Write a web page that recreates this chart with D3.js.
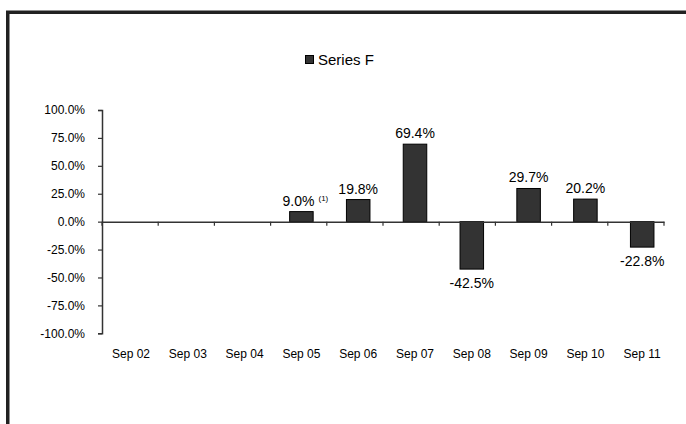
<!DOCTYPE html>
<html>
<head>
<meta charset="utf-8">
<script src="https://cdn.jsdelivr.net/npm/d3@7"></script>
<style>
  html, body { margin: 0; padding: 0; background: #fff; }
  svg { display: block; }
  text { font-family: "Liberation Sans", Arial, sans-serif; fill: #000; }
</style>
</head>
<body>
<svg id="chart" width="686" height="424"></svg>
<script>
const categories = ["Sep 02","Sep 03","Sep 04","Sep 05","Sep 06","Sep 07","Sep 08","Sep 09","Sep 10","Sep 11"];
const seriesF = [null, null, null, 9.0, 19.8, 69.4, -42.5, 29.7, 20.2, -22.8];
const labels  = ["", "", "", "9.0%", "19.8%", "69.4%", "-42.5%", "29.7%", "20.2%", "-22.8%"];
const notes   = ["", "", "", "(1)", "", "", "", "", "", ""];
const yTicks  = [100, 75, 50, 25, 0, -25, -50, -75, -100];
const seriesName = "Series F";

const svg = d3.select("#chart");

// frame
svg.append("rect")
  .attr("x", 7.75).attr("y", 12.25)
  .attr("width", 720).attr("height", 460)
  .attr("fill", "none").attr("stroke", "#222").attr("stroke-width", 3.5);

const y = d3.scaleLinear().domain([-100, 100]).range([333.3, 110]);
const xAxisScale = d3.scaleBand().domain(categories).range([102, 664]);
const xBars = d3.scaleBand().domain(categories).range([102.6, 670.6])
  .paddingInner(0.586).paddingOuter(0.293);

// bars
svg.append("g").selectAll("rect")
  .data(categories.map((c, i) => ({c, v: seriesF[i]})).filter(d => d.v !== null))
  .join("rect")
  .attr("x", d => xBars(d.c))
  .attr("width", xBars.bandwidth())
  .attr("y", d => y(Math.max(0, d.v)))
  .attr("height", d => Math.abs(y(d.v) - y(0)))
  .attr("fill", "#333333").attr("stroke", "#000").attr("stroke-width", 1);

// y axis
const yAxis = d3.axisLeft(y).tickValues(yTicks).tickSize(4).tickPadding(13)
  .tickFormat(d => d.toFixed(1) + "%");
const gy = svg.append("g").attr("transform", "translate(102,0)").call(yAxis);
gy.select(".domain").attr("stroke", "#333").attr("stroke-width", 1.5);
gy.selectAll(".tick line").attr("stroke", "#333").attr("stroke-width", 1.2);
gy.selectAll(".tick text").style("font-size", "12px").style("font-family", "Liberation Sans, Arial, sans-serif").attr("fill", "#000");

// x axis along zero line
const xAxis = d3.axisBottom(xAxisScale).tickSize(0).tickFormat("");
const gx = svg.append("g").attr("transform", `translate(0,${y(0)})`).call(xAxis);
gx.select(".domain").attr("stroke", "#333").attr("stroke-width", 1.5);
gx.selectAll(".tick").remove();
// boundary ticks
const bounds = categories.map(c => xAxisScale(c)).concat([xAxisScale.range()[1]]);
gx.selectAll("line.bt").data(bounds).join("line").attr("class", "bt")
  .attr("x1", d => d).attr("x2", d => d).attr("y1", 0).attr("y2", 4)
  .attr("stroke", "#333").attr("stroke-width", 1.2);

// category labels
svg.append("g").selectAll("text")
  .data(categories).join("text")
  .attr("x", d => xBars(d) + xBars.bandwidth() / 2)
  .attr("y", 358)
  .attr("text-anchor", "middle")
  .style("font-size", "12px")
  .text(d => d);

// data labels
const lab = svg.append("g").selectAll("text")
  .data(categories.map((c, i) => ({c, v: seriesF[i], t: labels[i], n: notes[i]})).filter(d => d.v !== null))
  .join("text")
  .attr("x", d => xBars(d.c) + xBars.bandwidth() / 2 + (d.n ? 4 : 0))
  .attr("y", d => d.v >= 0 ? y(d.v) - 6 : y(d.v) + 19)
  .attr("text-anchor", "middle")
  .style("font-size", "14px");
lab.append("tspan").text(d => d.t);
lab.filter(d => d.n).append("tspan")
  .attr("dx", 4).attr("dy", -5)
  .style("font-size", "8px")
  .text(d => d.n);

// legend
const lg = svg.append("g");
lg.append("rect").attr("x", 305.5).attr("y", 55.5).attr("width", 8).attr("height", 8)
  .attr("fill", "#333").attr("stroke", "#000").attr("stroke-width", 1);
lg.append("text").attr("x", 318).attr("y", 65).style("font-size", "15px").text(seriesName);
</script>
</body>
</html>
